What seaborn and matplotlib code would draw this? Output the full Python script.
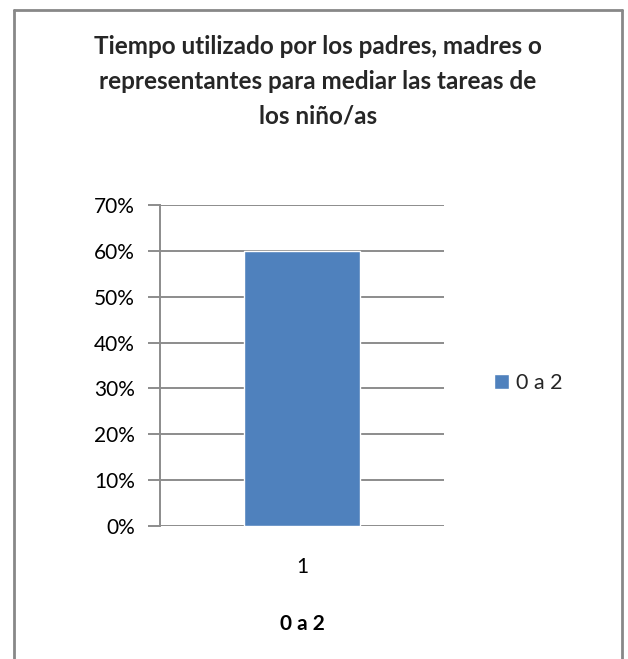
import matplotlib
matplotlib.use("Agg")
import matplotlib.pyplot as plt
from matplotlib.lines import Line2D
from matplotlib.ticker import PercentFormatter
import seaborn as sns
import pandas as pd

# Data
categories = ["1"]
series = ["0 a 2"]
values = [0.60]
y_ticks = [0.0, 0.1, 0.2, 0.3, 0.4, 0.5, 0.6, 0.7]

title = "Tiempo utilizado por los padres, madres o\nrepresentantes para mediar las tareas de\nlos niño/as"
x_label = "0 a 2"

BAR_COLOR = "#4F81BD"
GRID_COLOR = "#8C8C8C"
FONT = ["Lato", "DejaVu Sans"]

sns.set_theme(style="white")
plt.rcParams["font.family"] = FONT

df = pd.DataFrame({"cat": categories, "serie": series, "val": values})

W, H = 628, 659
fig = plt.figure(figsize=(W / 100, H / 100), dpi=100)
ax = fig.add_axes([160 / W, 1 - 526 / H, (444 - 160) / W, (526 - 205) / H])

sns.barplot(data=df, x="cat", y="val", hue="serie", palette=[BAR_COLOR],
            width=0.405, ax=ax, legend=True, saturation=1)

ax.set_xlim(-0.5, 0.5)
ax.set_ylim(0, 0.7)
ax.set_yticks(y_ticks)
ax.yaxis.set_major_formatter(PercentFormatter(1.0, decimals=0))
ax.yaxis.grid(True, color=GRID_COLOR, linewidth=1.4)
ax.set_axisbelow(True)
for side in ("top", "right", "bottom"):
    ax.spines[side].set_visible(False)
ax.spines["left"].set_color(GRID_COLOR)
ax.spines["left"].set_linewidth(1.4)
ax.tick_params(axis="y", which="major", left=True, length=9, width=1.4,
               color=GRID_COLOR, labelsize=15, pad=9, labelcolor="black")
ax.tick_params(axis="x", bottom=False, labelsize=15, pad=16, labelcolor="black")
ax.set_ylabel("")
ax.set_xlabel(x_label, fontsize=15, fontweight="bold", labelpad=27, color="black")

# Legend to the right of the plot area
handles, labels = ax.get_legend_handles_labels()
ax.legend(handles, labels, loc="center left", bbox_to_anchor=(494 / W, 1 - 383 / H),
          bbox_transform=fig.transFigure, frameon=False, fontsize=15.5,
          handlelength=0.7, handleheight=0.7, handletextpad=0.3, borderpad=0,
          borderaxespad=0)

fig.text(0.5 * (14 + 622) / W, 1 - 35 / H, title, ha="center", va="top",
         fontsize=17.5, fontweight="bold", linespacing=1.62)

# Chart frame (open at the bottom)
frame_kw = dict(color="#888888", linewidth=2, transform=fig.transFigure)
fig.add_artist(Line2D([14 / W, 14 / W], [0, 1 - 10 / H], **frame_kw))
fig.add_artist(Line2D([622 / W, 622 / W], [0, 1 - 10 / H], **frame_kw))
fig.add_artist(Line2D([14 / W, 622 / W], [1 - 10 / H, 1 - 10 / H], **frame_kw))

fig.savefig("out.png", dpi=100)
